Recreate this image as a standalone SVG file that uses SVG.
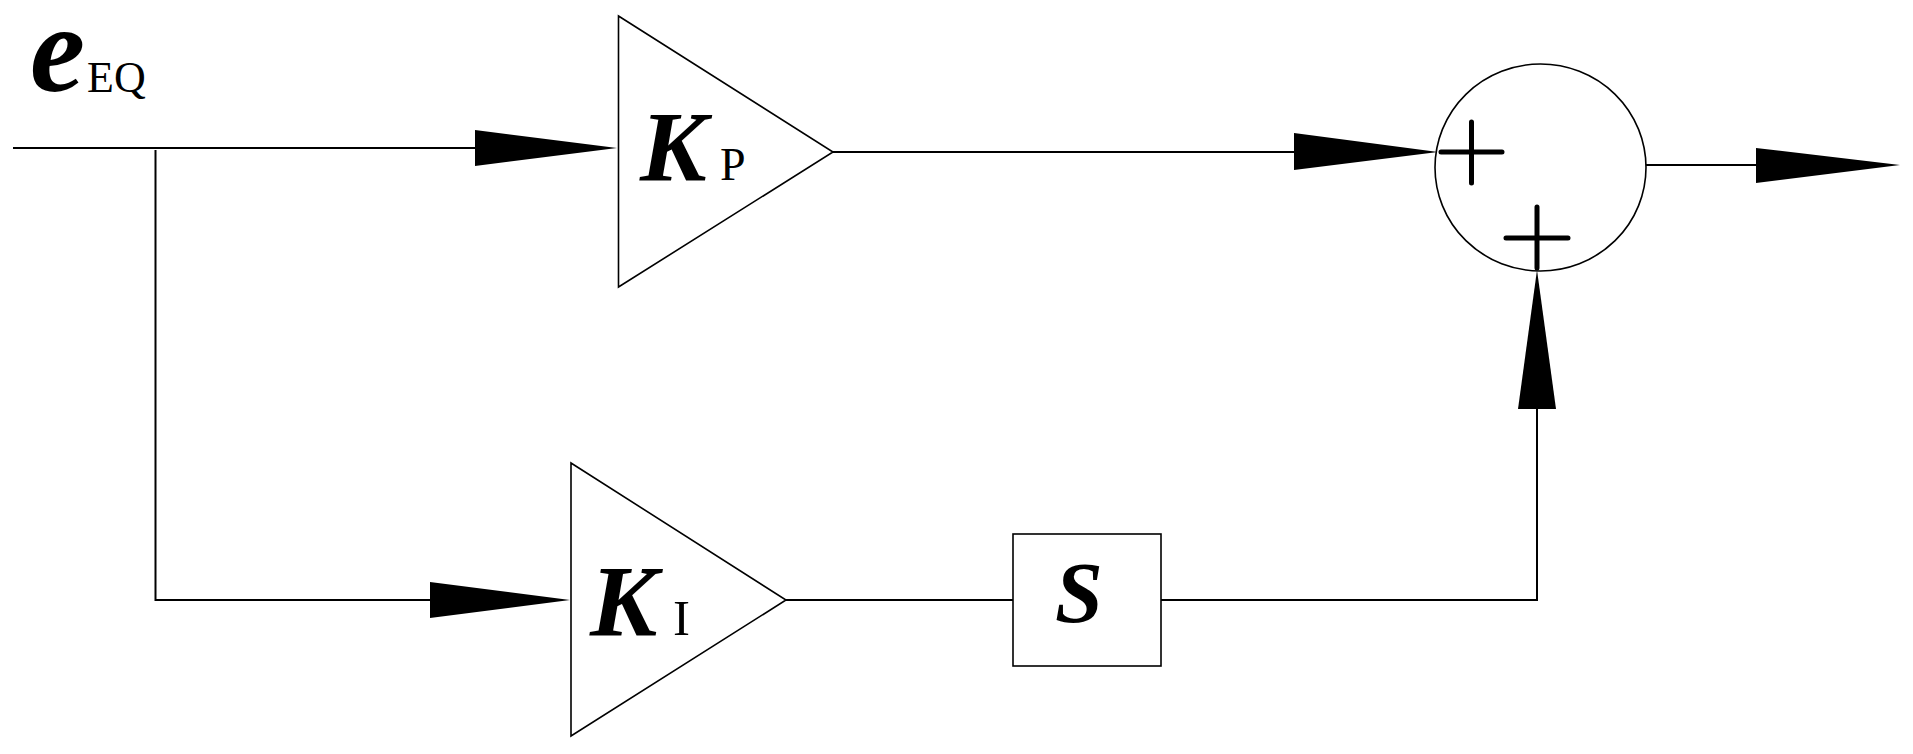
<svg xmlns="http://www.w3.org/2000/svg" width="1913" height="754" viewBox="0 0 1913 754">
<style>
.wire{fill:none;stroke:#000;stroke-width:2}
.shape{fill:#fff;stroke:#000;stroke-width:1.6}
.head{fill:#000;stroke:none}
.plus{fill:none;stroke:#000;stroke-width:5;stroke-linecap:round}
.t{font-family:"Liberation Serif","Times New Roman",serif;fill:#000}
.bi{font-style:italic;font-weight:bold}
</style>
<rect width="1913" height="754" fill="#fff"/>
<g id="connectors">
<path class="wire" d="M13,148 H480"/>
<path class="wire" d="M155.5,150 V600 H435"/>
<path class="wire" d="M833,152 H1300"/>
<path class="wire" d="M786,600 H1013"/>
<path class="wire" d="M1161,600 H1537 V405"/>
<path class="wire" d="M1646,165 H1760"/>
<polygon class="head" points="475,130 617,148 475,166"/>
<polygon class="head" points="1294,133 1438,152 1294,170"/>
<polygon class="head" points="1756,148 1900,165 1756,183"/>
<polygon class="head" points="430,582 570,600 430,618"/>
<polygon class="head" points="1518,409 1537,270 1556,409"/>
</g>
<g id="label-input">
<text class="t bi" x="30" y="91" font-size="124">e</text>
<text class="t" x="87" y="92" font-size="44">EQ</text>
</g>
<g id="node-kp">
<polygon class="shape" points="618.5,16 833,152 618.5,287"/>
<text class="t bi" x="640" y="180" font-size="100">K</text>
<text class="t" x="720" y="180" font-size="46">P</text>
</g>
<g id="node-ki">
<polygon class="shape" points="571,463 786,600 571,736"/>
<text class="t bi" x="590" y="636" font-size="101">K</text>
<text class="t" x="673" y="635" font-size="51">I</text>
</g>
<g id="node-s">
<rect class="shape" x="1013" y="534" width="148" height="132" stroke-width="2"/>
<text class="t bi" x="1055" y="622" font-size="86">S</text>
</g>
<g id="node-sum">
<ellipse class="shape" cx="1540.5" cy="167.5" rx="105.5" ry="103.5"/>
<path class="plus" d="M1441,152 H1502 M1471.5,122 V183"/>
<path class="plus" d="M1506,238 H1568 M1537,207 V268"/>
</g>
</svg>
